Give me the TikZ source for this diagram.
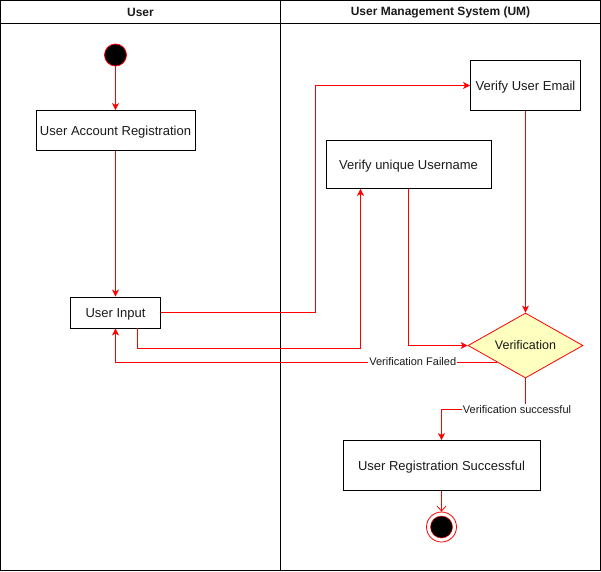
\documentclass[tikz,border=0pt]{standalone}
\usepackage{fontspec}
\setmainfont{Liberation Sans}
\usetikzlibrary{arrows.meta,shapes.geometric,calc}
\definecolor{txt}{HTML}{1A1A1A}
\definecolor{decfill}{HTML}{FFFFC0}
\begin{document}
\begin{tikzpicture}[x=1pt,y=-1pt,
  font=\fontsize{12}{14}\selectfont,
  every node/.style={text=txt},
  act/.style={draw=black, line width=0.9pt, fill=white, rectangle, inner sep=2pt,
    font=\fontsize{13}{15}\selectfont, text height=12pt, text depth=2.7pt},
  decision/.style={draw=red, line width=0.8pt, fill=decfill, diamond, aspect=1.77, inner sep=0pt,
    minimum width=115pt, minimum height=65pt,
    font=\fontsize{12.5}{14}\selectfont, text height=11.5pt, text depth=2.6pt},
  flow/.style={draw=red, line width=0.8pt, -{Stealth[length=7pt,width=7pt,inset=2pt]}},
  openflow/.style={draw=red, line width=0.8pt, -{Straight Barb[length=5pt,width=9pt]}},
  lbl/.style={fill=white, inner sep=1pt, font=\fontsize{11}{13}\selectfont},
  lane/.style={draw=black, line width=0.9pt},
  title/.style={font=\bfseries\fontsize{12}{14}\selectfont}]

\useasboundingbox (0,0) rectangle (601,571);

% swimlane frame
\draw[lane] (0.5,0.5) rectangle (600.5,570.5);
\draw[lane] (0.5,23.5) -- (600.5,23.5);
\draw[lane] (280.5,0.5) -- (280.5,570.5);
\node[title] (hUser) at (140.5,12) {User};
\node[title] (hUM) at (440.5,12) {User Management System (UM)};

% activities
\node[circle, draw=red, line width=0.8pt, fill=black, minimum size=22pt, inner sep=0pt] (start) at (115.5,55) {};
\node[act, minimum width=159pt, minimum height=40pt] (reg) at (115.5,130.5) {User Account Registration};
\node[act, minimum width=90pt, minimum height=31pt] (ui) at (115.5,312.5) {User Input};
\node[act, minimum width=110pt, minimum height=50pt] (email) at (525.5,85.5) {Verify User Email};
\node[act, minimum width=165pt, minimum height=48pt] (un) at (408.5,164.5) {Verify unique Username};
\node[decision] (dia) at (525.5,345.5) {Verification};
\node[act, minimum width=197pt, minimum height=50pt] (rs) at (441.5,465.5) {User Registration Successful};
\node[circle, draw=red, line width=0.8pt, fill=white, minimum size=30pt, inner sep=0pt] (end) at (441.5,527) {};
\node[circle, draw=red, line width=0.5pt, fill=black, minimum size=22pt, inner sep=0pt] (endin) at (end.center) {};

% bend helpers
\coordinate (b1) at (315.5,0);
\coordinate (u2) at ([xshift=-48pt]un.south);
\coordinate (fp) at ($(dia.west)!0.5!(dia.south)$);

% connectors
\draw[flow] (start) -- (reg);
\draw[flow] (reg) -- (ui);
\draw[flow] (ui.east) -| (b1 |- email.west) -- (email.west);
\draw[flow] ([xshift=22pt]ui.south) -- ++(0,20) -| (u2);
\draw[flow] (un.south) |- (dia.west);
\draw[flow] (email.south) -- (dia.north);
\draw[flow] (fp) -| (ui.south) node[lbl, pos=0.11] {Verification Failed};
\draw[flow] (dia.south) -- ++(0,31) node[lbl, anchor=west, xshift=-64pt] {Verification successful} -| (rs.north);
\draw[openflow] (rs.south) -- (end.north);

\end{tikzpicture}
\end{document}
